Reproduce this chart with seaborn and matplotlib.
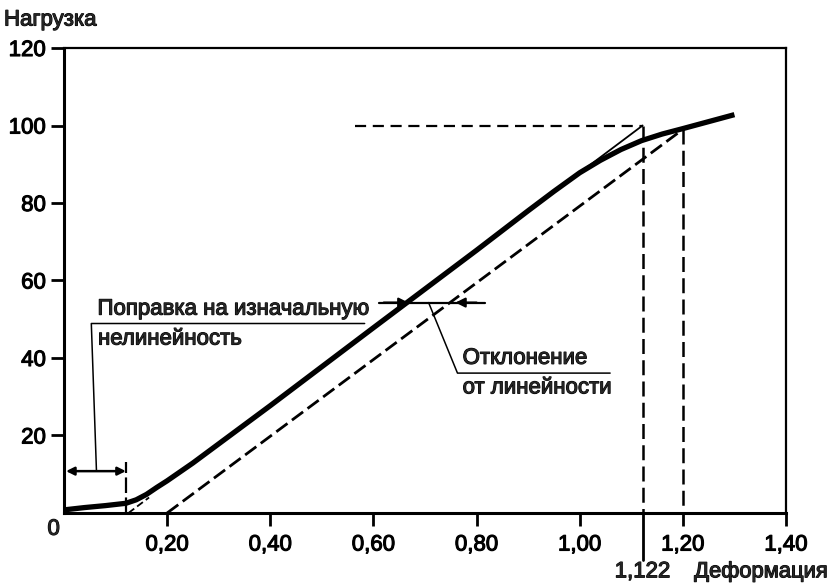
import numpy as np
import pandas as pd
import seaborn as sns
import matplotlib.pyplot as plt
import matplotlib.patheffects as pe
from matplotlib.ticker import FuncFormatter

# Кривая нагрузка-деформация
curve_x = [0.00, 0.04, 0.08, 0.12, 0.14, 0.16, 0.18, 0.20, 0.25, 0.40, 0.60, 0.80,
           0.90, 0.95, 1.00, 1.04, 1.08, 1.12, 1.16, 1.20, 1.25, 1.30]
curve_y = [0.8, 1.4, 1.9, 2.5, 3.4, 4.8, 6.6, 8.3, 12.9, 27.7, 47.8, 67.8,
           78.0, 83.0, 87.8, 91.0, 93.8, 96.1, 97.8, 99.2, 101.0, 102.8]

# Смещённая прямая (пунктир)
offset_x = [0.20, 1.20]
offset_y = [0.0, 99.0]

# Продолжение линейного участка
ext_x = [1.00, 1.122]
ext_y = [87.8, 100.0]
toe_x = [0.125, 0.165]
toe_y = [0.0, 4.0]

x_ticks = [0.2, 0.4, 0.6, 0.8, 1.0, 1.2, 1.4]
y_ticks = [20, 40, 60, 80, 100, 120]
x_mark = 1.122
x_toe = 0.12
y_yield = 100

sns.set_theme(style="white")
plt.rcParams['font.family'] = ['Liberation Sans', 'DejaVu Sans']
FS = 16
heavy = [pe.withStroke(linewidth=0.8, foreground='black')]

fig = plt.figure(figsize=(8.32, 5.84), dpi=100)
ax = fig.add_axes([0.0769, 0.1216, 0.9447 - 0.0769, 0.9178 - 0.1216])

df_curve = pd.DataFrame({'x': curve_x, 'y': curve_y})
df_off = pd.DataFrame({'x': offset_x, 'y': offset_y})
df_ext = pd.DataFrame({'x': ext_x, 'y': ext_y})

sns.lineplot(data=df_curve, x='x', y='y', ax=ax, color='black', lw=3.8,
             solid_capstyle='butt', sort=False)
sns.lineplot(data=df_off, x='x', y='y', ax=ax, color='black', lw=2,
             dashes=False, linestyle=(0, (5, 2)))
sns.lineplot(data=df_ext, x='x', y='y', ax=ax, color='black', lw=1.3)
ax.plot(toe_x, toe_y, color='black', lw=1.3, linestyle=(0, (4, 2)))

# вспомогательные пунктиры
ax.plot([0.565, x_mark], [y_yield, y_yield], color='black', lw=1.6, linestyle=(0, (5, 3)))
ax.plot([x_mark, x_mark], [y_yield, 0], color='black', lw=1.8, linestyle=(0, (6, 2.5)))
ax.plot([1.2, 1.2], [99, 0], color='black', lw=1.8, linestyle=(0, (6, 2.5)))
ax.plot([x_mark, x_mark], [0, -12.1], color='black', lw=2, clip_on=False)
ax.plot([x_toe, x_toe], [0, 13.1], color='black', lw=1.6, linestyle=(0, (7, 2)))

# поправка на нелинейность
ax.annotate('', xy=(0.004, 10.8), xytext=(x_toe, 10.8),
            arrowprops=dict(arrowstyle='<|-|>', color='black', lw=1.8,
                            mutation_scale=12, shrinkA=0, shrinkB=0))
ax.plot([0.063, 0.053, 0.583], [10.8, 48.9, 48.9], color='black', lw=1.1)
ax.text(0.065, 49.9, 'Поправка на изначальную', fontsize=FS, va='bottom', ha='left',
        path_effects=heavy)
ax.text(0.066, 47.6, 'нелинейность', fontsize=FS, va='top', ha='left', path_effects=heavy)

# отклонение от линейности
ax.plot([0.61, 0.817], [54.3, 54.3], color='black', lw=1.6)
ax.annotate('', xy=(0.668, 54.3), xytext=(0.62, 54.3),
            arrowprops=dict(arrowstyle='-|>', color='black', lw=1.6,
                            mutation_scale=14, shrinkA=0, shrinkB=0))
ax.annotate('', xy=(0.759, 54.3), xytext=(0.80, 54.3),
            arrowprops=dict(arrowstyle='-|>', color='black', lw=1.6,
                            mutation_scale=14, shrinkA=0, shrinkB=0))
ax.plot([0.707, 0.763, 1.059], [54.3, 36.1, 36.1], color='black', lw=1.1)
ax.text(0.773, 37.2, 'Отклонение', fontsize=FS, va='bottom', ha='left', path_effects=heavy)
ax.text(0.773, 35.0, 'от линейности', fontsize=FS, va='top', ha='left', path_effects=heavy)

ax.set_xlim(0, 1.4)
ax.set_ylim(0, 120)
ax.set_xticks(x_ticks)
ax.set_yticks(y_ticks)
ax.xaxis.set_major_formatter(FuncFormatter(lambda v, p: f'{v:.2f}'.replace('.', ',')))
ax.tick_params(axis='both', direction='out', length=9.5, width=2, colors='black',
               labelsize=FS, bottom=True, left=True)
ax.tick_params(axis='x', pad=6)
ax.tick_params(axis='y', pad=3.5)
for lbl in ax.get_xticklabels() + ax.get_yticklabels():
    lbl.set_path_effects(heavy)
ax.set_xlabel('')
ax.set_ylabel('')
for side, sp in ax.spines.items():
    sp.set_visible(True)
    sp.set_color('black')
    sp.set_linewidth(2.2 if side in ('left', 'bottom') else 1.6)

ax.text(-0.008, -1.5, '0', fontsize=FS, ha='right', va='top', path_effects=heavy)
ax.text(x_mark, -16.6, '1,122', fontsize=FS, ha='center', va='baseline', path_effects=heavy)
ax.text(1.222, -16.6, 'Деформация', fontsize=FS - 0.2, ha='left', va='baseline',
        path_effects=heavy)
fig.text(4 / 832, 1 - 20 / 584, 'Нагрузка', fontsize=FS, ha='left', va='center',
         path_effects=heavy)

fig.savefig('out.png', dpi=100)
